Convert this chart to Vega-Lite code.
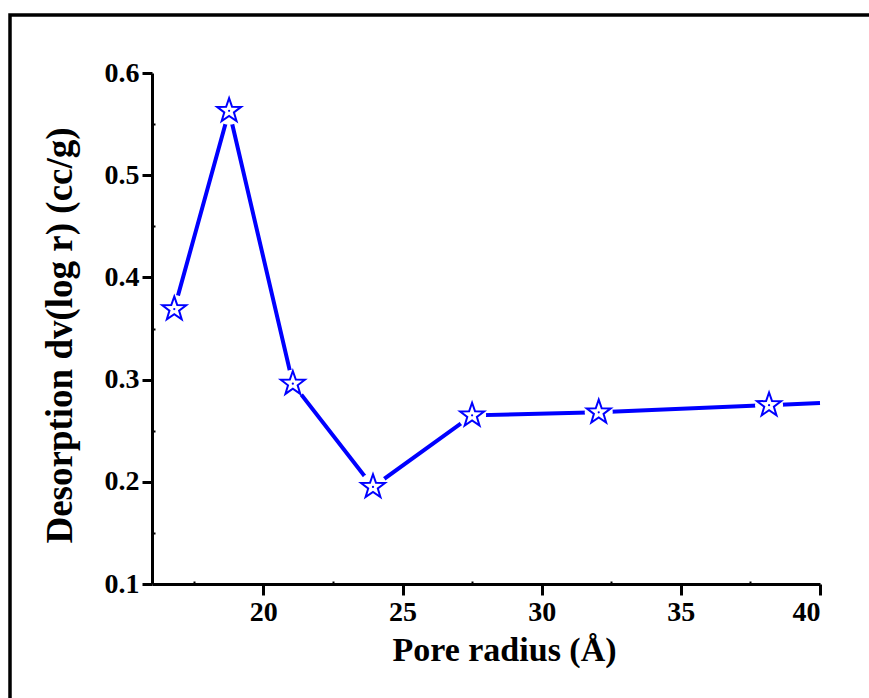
{
  "$schema": "https://vega.github.io/schema/vega-lite/v6.json",
  "width": 870,
  "height": 700,
  "autosize": {"type": "none"},
  "padding": {"left": 10, "top": 15, "right": 0, "bottom": 0},
  "background": "white",
  "config": {
    "view": {"stroke": "black", "strokeWidth": 3.5},
    "axis": {"grid": false, "labelFont": "Liberation Serif", "titleFont": "Liberation Serif", "labelFontWeight": "bold", "titleFontWeight": "bold", "labelColor": "black", "titleColor": "black", "domainColor": "black", "tickColor": "black"}
  },
  "data": {"values": [
    {"r": 16.8, "v": 0.369, "m": true},
    {"r": 18.77, "v": 0.563, "m": true},
    {"r": 21.06, "v": 0.296, "m": true},
    {"r": 23.94, "v": 0.195, "m": true},
    {"r": 27.5, "v": 0.265, "m": true},
    {"r": 32.05, "v": 0.268, "m": true},
    {"r": 38.17, "v": 0.275, "m": true},
    {"r": 40, "v": 0.277, "m": false}
  ]},
  "layer": [
    {
      "mark": {"type": "line", "color": "#0000ff", "strokeWidth": 4, "strokeCap": "butt"},
      "encoding": {
        "x": {"field": "r", "type": "quantitative",
          "scale": {"domain": [16, 40], "range": [142, 810], "nice": false, "zero": false},
          "axis": {"orient": "bottom", "offset": -131, "values": [20, 25, 30, 35, 40], "tickSize": 11, "tickWidth": 3, "domainWidth": 3, "labelFontSize": 28, "labelPadding": 3, "title": "Pore radius (Å)", "titleFontSize": 34, "titlePadding": 7, "titleX": 494}},
        "y": {"field": "v", "type": "quantitative",
          "scale": {"domain": [0.1, 0.6], "range": [569, 58], "nice": false, "zero": false},
          "axis": {"orient": "left", "offset": -142, "values": [0.1, 0.2, 0.3, 0.4, 0.5, 0.6], "format": ".1f", "tickSize": 10, "tickWidth": 3, "domainWidth": 3, "labelFontSize": 28, "labelPadding": 3, "title": "Desorption dv(log r) (cc/g)", "titleFontSize": 37, "titlePadding": 25, "titleY": 320}}
      }
    },
    {
      "transform": [{"filter": "datum.m"}],
      "mark": {"type": "circle", "color": "white", "opacity": 1, "size": 784},
      "encoding": {
        "x": {"field": "r", "type": "quantitative",
          "axis": {"orient": "top", "offset": -569, "values": [17.5, 22.5, 27.5, 32.5, 37.5], "tickSize": 3, "tickWidth": 2, "domain": false, "labels": false, "title": null}},
        "y": {"field": "v", "type": "quantitative",
          "axis": {"orient": "right", "offset": -728, "values": [0.15, 0.25, 0.35, 0.45, 0.55], "tickSize": 3, "tickWidth": 2, "domain": false, "labels": false, "title": null}}
      }
    },
    {
      "transform": [{"filter": "datum.m"}],
      "mark": {"type": "point", "shape": "M0,-1L0.235,-0.324L0.951,-0.309L0.38,0.124L0.588,0.809L0,0.4L-0.588,0.809L-0.38,0.124L-0.951,-0.309L-0.235,-0.324Z", "size": 640, "filled": false, "fill": "white", "fillOpacity": 1, "stroke": "#0000ff", "strokeWidth": 2, "opacity": 1},
      "encoding": {
        "x": {"field": "r", "type": "quantitative", "axis": null},
        "y": {"field": "v", "type": "quantitative", "axis": null}
      }
    },
    {
      "transform": [{"filter": "datum.m"}],
      "mark": {"type": "circle", "color": "#0000ff", "opacity": 1, "size": 5},
      "encoding": {
        "x": {"field": "r", "type": "quantitative", "axis": null},
        "y": {"field": "v", "type": "quantitative", "axis": null}
      }
    }
  ]
}
